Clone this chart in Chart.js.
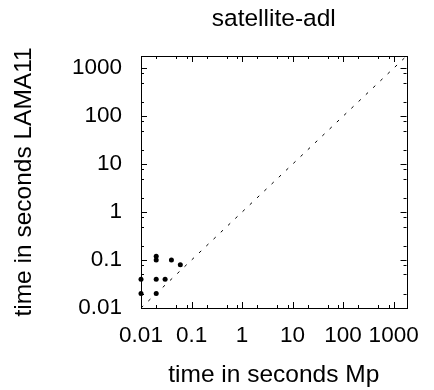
<!DOCTYPE html>
<html>
<head>
<meta charset="utf-8">
<script src="https://cdn.jsdelivr.net/npm/chart.js@4/dist/chart.umd.min.js"></script>
<style>
  body { margin: 0; background: #fff; }
  canvas { display: block; }
</style>
</head>
<body>
<canvas id="myChart" width="434" height="390"></canvas>
<script>
/*
-------------------------------------
/// data
-------------------------------------
*/
const timesMp = [0.01, 0.01, 0.02, 0.02, 0.02, 0.02, 0.03, 0.04, 0.06];
const timesLama = [0.04, 0.02, 0.12, 0.10, 0.04, 0.02, 0.04, 0.10, 0.08];
const diagonal = [0.01, 1800];
const majorTicks = [0.01, 0.1, 1, 10, 100, 1000];
const tickLabels = ['0.01', '0.1', '1', '10', '100', '1000'];
const minorSteps = [2, 5, 8];
const axisMin = 0.01;
const axisMax = 1800;

/*
-------------------------------------
/// ticks
-------------------------------------
*/
var tickValues = [];
majorTicks.forEach(m => {
  tickValues.push(m);
  minorSteps.forEach(s => {
    let v = +(m * s).toPrecision(6);
    if (v <= axisMax) tickValues.push(v);
  });
});

function setTicks(scale) {
  scale.ticks = tickValues.map(v => ({ value: v, major: majorTicks.includes(v) }));
}

function tickText(value) {
  let i = majorTicks.indexOf(value);
  return i >= 0 ? tickLabels[i] : '';
}

// gnuplot style frame with ticks pointing inwards
const frameTicks = {
  id: 'frameTicks',
  afterDatasetsDraw(chart) {
    const ctx = chart.ctx;
    const a = chart.chartArea;
    const sx = chart.scales.x;
    const sy = chart.scales.y;
    ctx.save();
    ctx.strokeStyle = '#000';
    ctx.lineWidth = 1;
    ctx.beginPath();
    sx.ticks.forEach(t => {
      let px = Math.round(sx.getPixelForValue(t.value)) + 0.5;
      let len = t.major ? 6 : 3;
      ctx.moveTo(px, a.bottom); ctx.lineTo(px, a.bottom - len);
      ctx.moveTo(px, a.top); ctx.lineTo(px, a.top + len);
    });
    sy.ticks.forEach(t => {
      let py = Math.round(sy.getPixelForValue(t.value)) + 0.5;
      let len = t.major ? 6 : 3;
      ctx.moveTo(a.left, py); ctx.lineTo(a.left + len, py);
      ctx.moveTo(a.right, py); ctx.lineTo(a.right - len, py);
    });
    ctx.stroke();
    ctx.strokeRect(Math.round(a.left) + 0.5, Math.round(a.top) + 0.5,
      Math.round(a.right - a.left), Math.round(a.bottom - a.top));
    ctx.restore();
  }
};

/*
-------------------------------------
/// chart
-------------------------------------
*/
const fontFamily = '"Liberation Sans", Arial, sans-serif';
var ctx = document.getElementById('myChart').getContext('2d');
var myChart = new Chart(ctx, {
  type: 'scatter',
  data: {
    datasets: [{
      data: timesMp.map((x, i) => ({ x: x, y: timesLama[i] })),
      backgroundColor: '#000',
      borderWidth: 0,
      pointRadius: 2.5,
      clip: false
    }, {
      data: diagonal.map(v => ({ x: v, y: v })),
      showLine: true,
      borderColor: '#000',
      borderWidth: 1,
      borderDash: [3, 7],
      pointRadius: 0
    }]
  },
  options: {
    responsive: false,
    animation: false,
    devicePixelRatio: 1,
    layout: { padding: { left: 0, right: 20, top: 0, bottom: 0 } },
    plugins: {
      legend: { display: false },
      tooltip: { enabled: false },
      title: {
        display: true,
        text: 'satellite-adl',
        fullSize: false,
        color: '#000',
        font: { family: fontFamily, size: 24.5, weight: 'normal' },
        padding: { top: 5, bottom: 21.6 }
      }
    },
    scales: {
      x: {
        type: 'logarithmic',
        min: axisMin,
        max: axisMax,
        afterBuildTicks: setTicks,
        afterFit: s => { s.height = 82; },
        grid: { display: false, drawTicks: false },
        border: { display: false },
        ticks: {
          autoSkip: false,
          maxRotation: 0,
          padding: 14,
          color: '#000',
          font: { family: fontFamily, size: 22.5 },
          callback: tickText
        },
        title: {
          display: true,
          text: 'time in seconds Mp',
          color: '#000',
          font: { family: fontFamily, size: 24.5 },
          padding: { top: 0, bottom: 0 }
        }
      },
      y: {
        type: 'logarithmic',
        min: axisMin,
        max: axisMax,
        afterBuildTicks: setTicks,
        afterFit: s => { s.width = 141; },
        grid: { display: false, drawTicks: false },
        border: { display: false },
        ticks: {
          autoSkip: false,
          padding: 19,
          color: '#000',
          font: { family: fontFamily, size: 22.5 },
          callback: tickText
        },
        title: {
          display: true,
          text: 'time in seconds LAMA11',
          color: '#000',
          font: { family: fontFamily, size: 24.5 },
          padding: { top: 10, bottom: 0 }
        }
      }
    }
  },
  plugins: [frameTicks]
});
</script>
</body>
</html>
